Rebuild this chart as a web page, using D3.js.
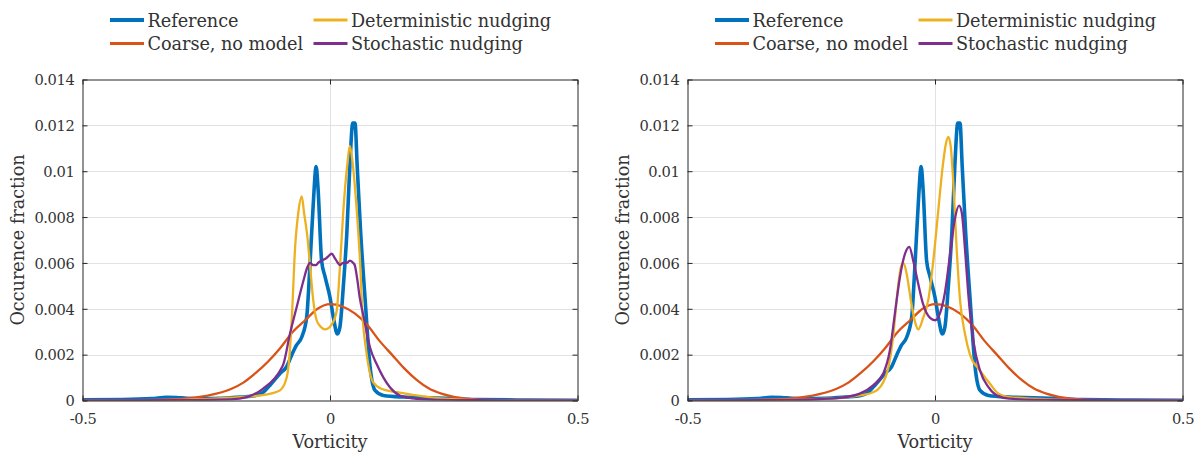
<!DOCTYPE html>
<html>
<head>
<meta charset="utf-8">
<script src="https://cdn.jsdelivr.net/npm/d3@7"></script>
<style>
  html, body { margin: 0; padding: 0; background: #fff; }
  svg { display: block; }
</style>
</head>
<body>
<svg id="chart" width="1200" height="453"></svg>
<script>
// ---------------- DATA ----------------
const seriesNames = ["Reference", "Coarse, no model", "Deterministic nudging", "Stochastic nudging"];
const seriesColors = ["#0072BD", "#D95319", "#EDB120", "#7E2F8E"];
const xTickValues = [-0.5, 0, 0.5];
const xTickLabels = ["-0.5", "0", "0.5"];
const yTickValues = [0, 0.002, 0.004, 0.006, 0.008, 0.01, 0.012, 0.014];
const yTickLabels = ["0", "0.002", "0.004", "0.006", "0.008", "0.01", "0.012", "0.014"];
const xLabel = "Vorticity";
const yLabel = "Occurence fraction";

// Reference (same in both panels)
const vortRef = [-0.5, -0.42, -0.36, -0.33, -0.31, -0.29, -0.26, -0.22, -0.18, -0.15, -0.135, -0.12, -0.101, -0.088, -0.077, -0.068, -0.057, -0.047, -0.041, -0.034, -0.028, -0.024, -0.017, -0.010, 0.0, 0.007, 0.015, 0.020, 0.027, 0.034, 0.040, 0.046, 0.0505, 0.055, 0.062, 0.071, 0.081, 0.091, 0.108, 0.15, 0.2, 0.25, 0.3, 0.4, 0.5];
const fracRef = [0.00003, 0.00004, 0.00008, 0.00014, 0.00013, 0.0001, 0.00008, 0.0001, 0.00015, 0.00022, 0.00036, 0.0007, 0.00118, 0.00146, 0.002, 0.0024, 0.00277, 0.00365, 0.0057, 0.0085, 0.0102, 0.0092, 0.0061, 0.0054, 0.0045, 0.0036, 0.0029, 0.0032, 0.0050, 0.0073, 0.0102, 0.0121, 0.0121, 0.0102, 0.0073, 0.0044, 0.00146, 0.00044, 0.00022, 0.00015, 0.00012, 0.00008, 0.00004, 0.00002, 0.00001];

// Coarse, no model (same in both panels)
const vortCoarse = [-0.5, -0.4, -0.3, -0.25, -0.2, -0.175, -0.15, -0.125, -0.1, -0.075, -0.05, -0.025, 0.0, 0.025, 0.05, 0.075, 0.1, 0.125, 0.15, 0.175, 0.2, 0.225, 0.25, 0.3, 0.4, 0.5];
const fracCoarse = [0, 0.00001, 0.00007, 0.0002, 0.0005, 0.00078, 0.0012, 0.0017, 0.0023, 0.0030, 0.0035, 0.0040, 0.0042, 0.0041, 0.0038, 0.0033, 0.0026, 0.0020, 0.0014, 0.0009, 0.00052, 0.0003, 0.00016, 0.00004, 0.00001, 0];

// Left panel: deterministic & stochastic nudging
const vortDetL = [-0.5, -0.3, -0.2, -0.15, -0.12, -0.101, -0.0875, -0.081, -0.077, -0.0707, -0.064, -0.057, -0.0525, -0.046, -0.040, -0.034, -0.027, -0.018, -0.010, 0.003, 0.0135, 0.020, 0.027, 0.035, 0.040, 0.046, 0.054, 0.0606, 0.066, 0.073, 0.087, 0.105, 0.135, 0.2, 0.25, 0.3, 0.5];
const fracDetL = [0, 0.00003, 0.00012, 0.0002, 0.0003, 0.00044, 0.001, 0.0022, 0.00365, 0.0066, 0.0082, 0.0089, 0.0082, 0.0072, 0.0058, 0.0044, 0.0035, 0.0032, 0.0031, 0.0033, 0.0039, 0.0058, 0.0083, 0.0103, 0.0111, 0.0103, 0.0083, 0.0061, 0.0036, 0.0022, 0.0008, 0.0005, 0.00036, 0.00015, 0.00006, 0.00002, 0];

const vortStoL = [-0.5, -0.3, -0.2, -0.168, -0.135, -0.101, -0.094, -0.081, -0.067, -0.054, -0.046, -0.040, -0.034, -0.028, -0.024, -0.017, -0.008, -0.003, 0.0034, 0.01, 0.016, 0.02, 0.026, 0.034, 0.04, 0.047, 0.05, 0.055, 0.06, 0.068, 0.081, 0.094, 0.108, 0.121, 0.141, 0.168, 0.2, 0.3, 0.5];
const fracStoL = [0, 0.00001, 0.00005, 0.00015, 0.00052, 0.0013, 0.0016, 0.0029, 0.0041, 0.0052, 0.0058, 0.0060, 0.0059, 0.0059, 0.0060, 0.0061, 0.0062, 0.0063, 0.0064, 0.0062, 0.0060, 0.0059, 0.0060, 0.0060, 0.0061, 0.0060, 0.0059, 0.0053, 0.0045, 0.00365, 0.0023, 0.0016, 0.001, 0.00058, 0.00022, 0.00009, 0.00004, 0.00001, 0];

// Right panel: deterministic & stochastic nudging
const vortDetR = [-0.5, -0.3, -0.2, -0.152, -0.125, -0.111, -0.094, -0.084, -0.076, -0.069, -0.064, -0.057, -0.049, -0.040, -0.034, -0.024, -0.0135, -0.0034, 0.0067, 0.0155, 0.022, 0.027, 0.0317, 0.037, 0.0438, 0.0505, 0.0606, 0.0707, 0.091, 0.111, 0.128, 0.15, 0.2, 0.3, 0.5];
const fracDetR = [0, 0.00003, 0.0001, 0.00022, 0.00036, 0.00058, 0.00146, 0.0029, 0.0047, 0.0058, 0.0060, 0.0055, 0.0044, 0.0034, 0.0031, 0.0036, 0.0044, 0.0061, 0.0083, 0.0102, 0.0112, 0.0115, 0.0111, 0.0095, 0.0066, 0.0044, 0.0029, 0.0020, 0.0013, 0.00073, 0.0003, 0.00015, 0.00008, 0.00002, 0];

const vortStoR = [-0.5, -0.3, -0.2, -0.152, -0.125, -0.104, -0.091, -0.081, -0.0707, -0.0606, -0.052, -0.044, -0.034, -0.024, -0.01, 0.0, 0.01, 0.02, 0.03, 0.04, 0.0485, 0.054, 0.0606, 0.067, 0.0775, 0.091, 0.108, 0.125, 0.15, 0.2, 0.3, 0.5];
const fracStoR = [0, 0.00002, 0.0001, 0.0003, 0.00066, 0.0012, 0.0022, 0.0038, 0.0054, 0.0064, 0.0067, 0.0061, 0.0051, 0.0042, 0.0036, 0.0035, 0.0038, 0.0047, 0.0063, 0.0079, 0.0085, 0.0082, 0.0066, 0.0047, 0.0026, 0.0013, 0.00058, 0.00022, 0.00008, 0.00003, 0.00001, 0];

// ---------------- FONT PICK ----------------
const svg = d3.select("#chart");
function measure(family, str, size, spacing) {
  const t = svg.append("text").attr("font-family", family).attr("font-size", size)
    .attr("letter-spacing", spacing || 0).text(str);
  const w = t.node().getComputedTextLength();
  t.remove();
  return w;
}
const probe = "Deterministic nudging";
const baseW = measure("xyzNoSuchFont", probe, 20);
const candidates = [
  { fam: "Liberation Serif", cap: 0.662 },
  { fam: "DejaVu Serif", cap: 0.729 },
  { fam: "Noto Serif", cap: 0.714 },
  { fam: "Times New Roman", cap: 0.662 }
];
let chosen = candidates[0];
for (const c of candidates) {
  if (Math.abs(measure(c.fam, probe, 20) - baseW) > 0.5) { chosen = c; break; }
}
const serif = chosen.fam;
const labelSize = 12.9 / chosen.cap;
const labelWNat = measure(serif, probe, labelSize);
const labelSpacing = Math.max(-0.5, (200 - labelWNat) / probe.length);
// tick labels: fit "0.014" to ~40px wide with a cap height near 11px
let tickSize = 11.0 / chosen.cap;
const tickWNat = measure(serif, "0.014", tickSize);
if (tickWNat > 42) tickSize = tickSize * Math.max(0.9, 42 / tickWNat);
const tickWNow = measure(serif, "0.014", tickSize);
const tickSpacing = Math.max(-0.6, Math.min(0.5, (40 - tickWNow) / 5));

// ---------------- DRAW ----------------
const zip = (xs, ys) => xs.map((x, i) => ({x, y: ys[i]}));
const panels = [
  { left: 82.5, right: 577.5, series: [zip(vortRef, fracRef), zip(vortCoarse, fracCoarse), zip(vortDetL, fracDetL), zip(vortStoL, fracStoL)] },
  { left: 687.5, right: 1182.5, series: [zip(vortRef, fracRef), zip(vortCoarse, fracCoarse), zip(vortDetR, fracDetR), zip(vortStoR, fracStoR)] }
];
const plotTop = 79.5, plotBottom = 400.5;
const axisColor = "#262626";
const textColor = "#333";
const lineWidths = [3.6, 2.3, 2.3, 2.3];

panels.forEach((p, pi) => {
  const x = d3.scaleLinear().domain([-0.5, 0.5]).range([p.left, p.right]);
  const y = d3.scaleLinear().domain([0, 0.014]).range([plotBottom, plotTop]);
  const g = svg.append("g");

  // grid
  g.append("g").selectAll("line").data(yTickValues.slice(1, -1)).join("line")
    .attr("x1", p.left).attr("x2", p.right)
    .attr("y1", d => Math.round(y(d)) + 0.5).attr("y2", d => Math.round(y(d)) + 0.5)
    .attr("stroke", "#e2e2e2").attr("stroke-width", 1);
  g.append("g").selectAll("line").data([0]).join("line")
    .attr("x1", d => Math.round(x(d)) + 0.5).attr("x2", d => Math.round(x(d)) + 0.5)
    .attr("y1", plotTop).attr("y2", plotBottom)
    .attr("stroke", "#e2e2e2").attr("stroke-width", 1);

  // clip
  const clipId = "clip" + pi;
  svg.append("clipPath").attr("id", clipId).append("rect")
    .attr("x", p.left).attr("y", plotTop).attr("width", p.right - p.left).attr("height", plotBottom - plotTop);

  // lines
  const line = d3.line().x(d => x(d.x)).y(d => y(d.y)).curve(d3.curveMonotoneX);
  const lg = g.append("g").attr("clip-path", `url(#${clipId})`);
  p.series.forEach((s, si) => {
    lg.append("path").datum(s).attr("d", line)
      .attr("fill", "none").attr("stroke", seriesColors[si])
      .attr("stroke-width", lineWidths[si]).attr("stroke-linejoin", "round");
  });

  // axes (MATLAB-like box with inward ticks)
  const tickLen = 5;
  const yAxisL = d3.axisLeft(y).tickValues(yTickValues).tickFormat((d, i) => yTickLabels[i]).tickSizeInner(-tickLen).tickSizeOuter(0).tickPadding(13);
  const yAxisR = d3.axisRight(y).tickValues(yTickValues).tickFormat("").tickSizeInner(-tickLen).tickSizeOuter(0);
  const xAxisB = d3.axisBottom(x).tickValues(xTickValues).tickFormat((d, i) => xTickLabels[i]).tickSizeInner(-tickLen).tickSizeOuter(0).tickPadding(13);
  const xAxisT = d3.axisTop(x).tickValues(xTickValues).tickFormat("").tickSizeInner(-tickLen).tickSizeOuter(0);

  const ay = g.append("g").attr("transform", `translate(${p.left},0)`).call(yAxisL);
  const ayr = g.append("g").attr("transform", `translate(${p.right},0)`).call(yAxisR);
  const ax = g.append("g").attr("transform", `translate(0,${plotBottom})`).call(xAxisB);
  const axt = g.append("g").attr("transform", `translate(0,${plotTop})`).call(xAxisT);
  [ay, ayr, ax, axt].forEach(a => {
    a.attr("font-family", serif).attr("font-size", tickSize);
    a.select(".domain").attr("stroke", axisColor).attr("stroke-width", 1);
    a.selectAll(".tick line").attr("stroke", axisColor).attr("stroke-width", 1);
    a.selectAll(".tick text").attr("fill", textColor)
      .attr("font-family", serif).attr("font-size", tickSize).attr("letter-spacing", tickSpacing);
  });
  ay.selectAll(".tick text").attr("dy", "0.36em").attr("x", -8.5 - tickSpacing);
  ax.selectAll(".tick text").attr("dy", "0.71em");

  // axis labels
  g.append("text").attr("x", (p.left + p.right) / 2).attr("y", 447.5)
    .attr("text-anchor", "middle").attr("fill", textColor)
    .attr("font-family", serif).attr("font-size", labelSize).attr("letter-spacing", labelSpacing)
    .text(xLabel);
  g.append("text").attr("transform", `translate(${p.left - 59},${(plotTop + plotBottom) / 2}) rotate(-90)`)
    .attr("text-anchor", "middle").attr("fill", textColor)
    .attr("font-family", serif).attr("font-size", labelSize).attr("letter-spacing", labelSpacing)
    .text(yLabel);

  // legend (2 columns, column-major)
  const legendCols = [p.left + 27.5, p.left + 231];
  const legendRows = [20, 43.5];
  seriesNames.forEach((name, si) => {
    const cx = legendCols[Math.floor(si / 2)];
    const cy = legendRows[si % 2];
    g.append("line").attr("x1", cx).attr("x2", cx + 34).attr("y1", cy).attr("y2", cy)
      .attr("stroke", seriesColors[si]).attr("stroke-width", si === 0 ? 4 : 3);
    g.append("text").attr("x", cx + 37.5).attr("y", cy + 6.5)
      .attr("fill", textColor)
      .attr("font-family", serif).attr("font-size", labelSize).attr("letter-spacing", labelSpacing)
      .text(name);
  });
});
</script>
</body>
</html>
